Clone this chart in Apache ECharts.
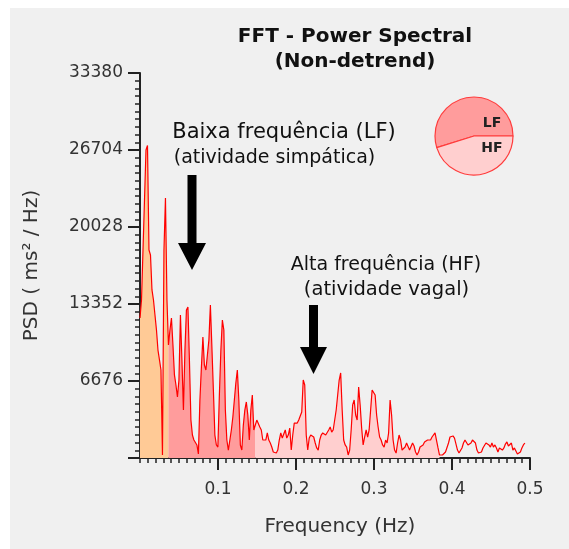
<!DOCTYPE html>
<html>
<head>
<meta charset="utf-8">
<script src="https://cdn.jsdelivr.net/npm/echarts@6/dist/echarts.min.js"></script>
<style>
  html, body { margin: 0; padding: 0; background: #fff; }
  #chart { width: 569px; height: 549px; }
</style>
</head>
<body>
<div id="chart"></div>
<script>
// FFT spectrum, one value every freqStep Hz starting at 0 Hz
const freqStep = 0.00192;
const psdValues = [
  12140, 13700, 18030, 22370, 26700, 27100, 18030, 17600, 14570, 13700,
  12400, 11100, 9360, 8500, 7630, 260, 18030,
  22540, 13700, 9800, 11100, 12140, 9800, 7200, 6330, 5290, 6760,
  12400, 8500, 4160, 9360, 12830, 13090, 8500, 3290, 1990, 1560,
  1560, 1130, 350, 5030, 7890, 10490, 8060, 7630, 8930, 10230,
  13270, 9620, 5900, 1990, 1130, 950, 5460, 9360, 11960, 11100,
  4160, 1560, 690, 690, 2430, 3550, 5030, 6500, 7630, 5030,
  1130, 690, 2860, 4160, 4860, 3730, 1560, 4160, 5460, 2430,
  2860, 3290, 3290, 2690, 2430, 1560, 1560, 1560, 2170, 1560,
  1300, 950, 520, 690, 430, 690, 1560, 2170, 1730, 1560,
  2430, 1730, 1990, 2600, 690, 1990, 3030, 3120, 3030, 3290,
  3120, 3990, 6760, 6330, 1990, 690, 1730, 1990, 1910, 1820,
  1300, 870, 690, 1560, 1990, 2170, 2250, 1990, 1820, 2430,
  2690, 2250, 2430, 2600, 4160, 5460, 6760, 7370, 4160, 1560,
  1130, 950, 260, 690, 2430, 4600, 5030, 3730, 3290, 6160,
  4600, 2600, 1130, 1820, 2430, 1820, 2430, 4160, 5900, 5900,
  5460, 3730, 2690, 1820, 1560, 1130, 950, 1560, 1300, 2170,
  5030, 3730, 1560, 690, 430, 1300, 1990, 1560, 690, 690,
  950, 1300, 1130, 690, 690, 1300, 1040, 520, 260, 520,
  950, 870, 1130, 1390, 1560, 1560, 1470, 1560, 1820, 1730,
  2170, 2250, 870, 260, 260, 260, 430, 520, 690, 1300,
  1820, 1910, 1910, 1730, 1210, 690, 430, 430, 870, 1300,
  1560, 1470, 1130, 1040, 1300, 1560, 1650, 1300, 690, 430,
  260, 520, 870, 1040, 1300, 1390, 1130, 950, 1300, 950,
  1130, 870, 520, 870, 870, 690, 870, 1210, 1390, 1040,
  1130, 1300, 690, 870, 610, 350, 260, 520, 870, 1130,
  1300
];
// filled bands, as index ranges into psdValues
const vlfRange = [0, 19];
const lfRange = [19, 77];
const hfRange = [77, 200];

const yTicks = [0, 6676, 13352, 20028, 26704, 33380];

const pieNames = ['LF', 'HF'];
const pieValues = [54.8, 45.2];

const FONT = '"DejaVu Sans", Arial, sans-serif';

const points = psdValues.map((v, i) => [i * freqStep, v]);
const band = (r) => points.slice(r[0], r[1] + 1);

const areaSeries = (name, range, color) => ({
  name,
  type: 'line',
  data: band(range),
  symbol: 'none',
  lineStyle: { width: 0, opacity: 0 },
  areaStyle: { color, opacity: 1 },
  silent: true,
  z: 1,
});

const axisColor = '#222';
const text = (x, y, str, size) => ({
  type: 'text', z: 50, x, y,
  style: { text: str, font: size + 'px ' + FONT, fill: '#111', textAlign: 'center', textVerticalAlign: 'middle' },
});

const chart = echarts.init(document.getElementById('chart'), null, { renderer: 'canvas' });
chart.setOption({
  animation: false,
  backgroundColor: '#fff',
  title: {
    text: 'FFT - Power Spectral\n(Non-detrend)',
    left: 350,
    top: 19,
    textAlign: 'center',
    textStyle: { fontFamily: FONT, fontSize: 20, fontWeight: 'bold', lineHeight: 25, color: '#111' },
  },
  grid: { left: 140, right: 39, top: 73, bottom: 91 },
  xAxis: [
    {
      type: 'value',
      min: 0,
      max: 0.5,
      interval: 0.1,
      position: 'bottom',
      name: 'Frequency (Hz)',
      nameLocation: 'middle',
      nameGap: 59,
      nameTextStyle: { fontFamily: FONT, fontSize: 20, color: '#333', padding: [0, 0, 0, 10] },
      axisLine: { lineStyle: { color: axisColor, width: 2 } },
      axisTick: { length: 12, lineStyle: { color: axisColor, width: 2 } },
      splitLine: { show: false },
      axisLabel: { showMinLabel: false, margin: 23, fontFamily: FONT, fontSize: 17, color: '#333' },
    },
    {
      // fine ticks every 0.01 Hz
      type: 'value',
      min: 0,
      max: 0.5,
      interval: 0.01,
      position: 'bottom',
      axisLine: { show: false },
      axisTick: { show: true, length: 5, lineStyle: { color: axisColor, width: 1.5 } },
      axisLabel: { show: false },
      splitLine: { show: false },
    },
  ],
  yAxis: {
    type: 'value',
    min: yTicks[0],
    max: yTicks[yTicks.length - 1],
    interval: yTicks[1] - yTicks[0],
    name: 'PSD ( ms² / Hz)',
    nameLocation: 'middle',
    nameRotate: 90,
    nameGap: 98,
    nameTextStyle: { fontFamily: FONT, fontSize: 20, color: '#333' },
    axisLine: { show: true, lineStyle: { color: axisColor, width: 2 } },
    axisTick: { show: true, length: 12, lineStyle: { color: axisColor, width: 2 } },
    minorTick: { show: true, splitNumber: 10, length: 5, lineStyle: { color: axisColor, width: 1.5 } },
    splitLine: { show: false },
    axisLabel: {
      showMinLabel: false, margin: 17, fontFamily: FONT, fontSize: 17, color: '#333',
      formatter: (v) => String(v),
    },
  },
  series: [
    areaSeries('VLF', vlfRange, '#ffca96'),
    areaSeries('LF', lfRange, '#ff9c9c'),
    areaSeries('HF', hfRange, '#ffcfcf'),
    {
      name: 'PSD',
      type: 'line',
      data: points,
      symbol: 'none',
      lineStyle: { color: '#ff0000', width: 1.2 },
      z: 3,
    },
    {
      name: 'LF/HF',
      type: 'pie',
      center: [474, 136],
      radius: 39,
      startAngle: 0,
      clockwise: false,
      label: { show: false },
      labelLine: { show: false },
      silent: true,
      data: pieNames.map((n, i) => ({
        name: n,
        value: pieValues[i],
        itemStyle: { color: i === 0 ? '#ff9c9c' : '#ffcfcf', borderColor: '#ff3b3b', borderWidth: 1.2 },
      })),
    },
  ],
  graphic: [
    { type: 'rect', z: -10, shape: { x: 10, y: 8, width: 559, height: 541 }, style: { fill: '#f0f0f0' } },
    { type: 'text', z: 50, x: 492, y: 123, style: { text: pieNames[0], font: 'bold 14px ' + FONT, fill: '#222', textAlign: 'center', textVerticalAlign: 'middle' } },
    { type: 'text', z: 50, x: 492, y: 148, style: { text: pieNames[1], font: 'bold 14px ' + FONT, fill: '#222', textAlign: 'center', textVerticalAlign: 'middle' } },
    text(284, 133, 'Baixa frequência (LF)', 21),
    text(274.5, 158, '(atividade simpática)', 19),
    text(386, 265, 'Alta frequência (HF)', 19),
    text(386.5, 290, '(atividade vagal)', 19.5),
    {
      type: 'polygon', z: 50,
      shape: { points: [[187.5, 175], [196.5, 175], [196.5, 243], [206, 243], [192, 270], [178, 243], [187.5, 243]] },
      style: { fill: '#000' },
    },
    {
      type: 'polygon', z: 50,
      shape: { points: [[309, 305], [318, 305], [318, 347], [327, 347], [313.5, 374], [300, 347], [309, 347]] },
      style: { fill: '#000' },
    },
  ],
});
</script>
</body>
</html>
